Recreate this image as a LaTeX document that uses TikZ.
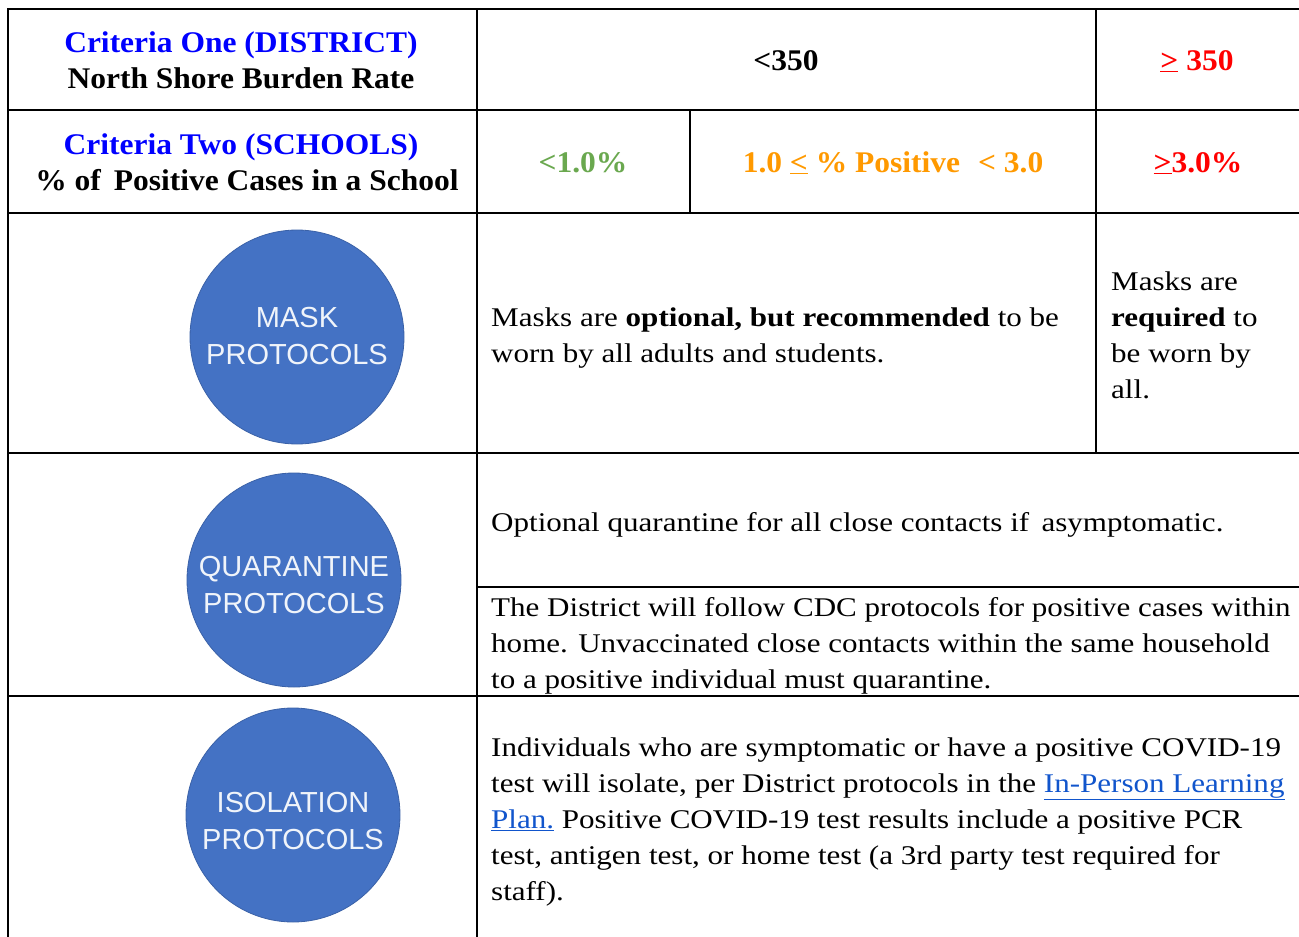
\documentclass[tikz,border=0pt]{standalone}
\usepackage{fontspec}
\setmainfont[FakeStretch=1.15]{Liberation Serif}
\newfontfamily\hdrfont[FakeStretch=1.05]{Liberation Serif}
\newfontfamily\circfont{Liberation Sans}
\definecolor{critblue}{RGB}{0,0,255}
\definecolor{okgreen}{RGB}{106,168,79}
\definecolor{warnorange}{RGB}{255,153,0}
\definecolor{alertred}{RGB}{255,0,0}
\definecolor{circblue}{RGB}{68,114,196}
\definecolor{linkblue}{RGB}{17,85,204}
\begin{document}
\begin{tikzpicture}[x=1pt,y=-1pt,
  gridline/.style={line width=2.2pt,black},
  thinline/.style={line width=1.8pt,black},
  hdr/.style={font=\hdrfont\fontsize{30}{36}\selectfont\bfseries,anchor=base,inner sep=0pt},
  body/.style={font=\fontsize{27}{36}\selectfont,anchor=base west,inner sep=0pt},
  circ/.style={circle,fill=circblue,draw=circblue!85!black,line width=0.8pt,minimum size=214pt,inner sep=0pt},
  circlbl/.style={text=white!92!circblue,font=\circfont\fontsize{29}{37}\selectfont,align=center,inner sep=0pt}]
\useasboundingbox (0,0) rectangle (1299,937);
% grid
\draw[gridline] (8,9) -- (1299,9);
\draw[gridline] (8,110) -- (1299,110);
\draw[gridline] (8,213) -- (1299,213);
\draw[gridline] (8,453) -- (1299,453);
\draw[gridline] (8,696) -- (1299,696);
\draw[thinline] (477,587) -- (1299,587);
\draw[gridline] (8,8) -- (8,937);
\draw[gridline] (477,8) -- (477,937);
\draw[gridline] (690,110) -- (690,213);
\draw[gridline] (1096,8) -- (1096,453);
% header row 1
\node[hdr,text=critblue] (c1a) at (241,52) {Criteria One (DISTRICT)};
\node[hdr] (c1b) at (241,88) {North Shore Burden Rate};
\node[hdr] (r1mid) at (786,70) {<350};
\node[hdr,text=alertred] (r1right) at (1197,70) {\underline{>} 350};
% header row 2
\node[hdr,text=critblue] (c2a) at (241,154) {Criteria Two (SCHOOLS)};
\node[hdr] (c2b) at (247,190) {\% of\, Positive Cases in a School};
\node[hdr,text=okgreen] (r2a) at (583,172) {<1.0\%};
\node[hdr,text=warnorange] (r2b) at (893,172) {1.0 \underline{<} \% Positive\, \,< 3.0};
\node[hdr,text=alertred] (r2c) at (1198,172) {\underline{>}3.0\%};
% circles
\node[circ] (mask) at (297,337) {};
\node[circlbl] (masklbl) at (297,336) {MASK\\PROTOCOLS};
\node[circ] (quar) at (294,580) {};
\node[circlbl] (quarlbl) at (294,585) {QUARANTINE\\PROTOCOLS};
\node[circ] (isol) at (293,815) {};
\node[circlbl] (isollbl) at (293,821) {ISOLATION\\PROTOCOLS};
% mask row
\node[body] (m1) at (491,326) {Masks are \textbf{optional, but recommended} to be};
\node[body] (m2) at (491,362) {worn by all adults and students.};
\node[body] (mr1) at (1111,290) {Masks are};
\node[body] (mr2) at (1111,326) {\textbf{required} to};
\node[body] (mr3) at (1111,362) {be worn by};
\node[body] (mr4) at (1111,398) {all.};
% quarantine row
\node[body] (q1) at (491,531) {Optional quarantine for all close contacts if\, asymptomatic.};
\node[body] (q2) at (491,616) {The District will follow CDC protocols for positive cases within};
\node[body] (q3) at (491,652) {home. Unvaccinated close contacts within the same household};
\node[body] (q4) at (491,688) {to a positive individual must quarantine.};
% isolation row
\node[body] (i1) at (491,756) {Individuals who are symptomatic or have a positive COVID-19};
\node[body] (i2) at (491,792) {test will isolate, per District protocols in the \textcolor{linkblue}{\underline{In-Person Learning}}};
\node[body] (i3) at (491,828) {\textcolor{linkblue}{\underline{Plan.}} Positive COVID-19 test results include a positive PCR};
\node[body] (i4) at (491,864) {test, antigen test, or home test (a 3rd party test required for};
\node[body] (i5) at (491,900) {staff).};
\end{tikzpicture}
\end{document}
